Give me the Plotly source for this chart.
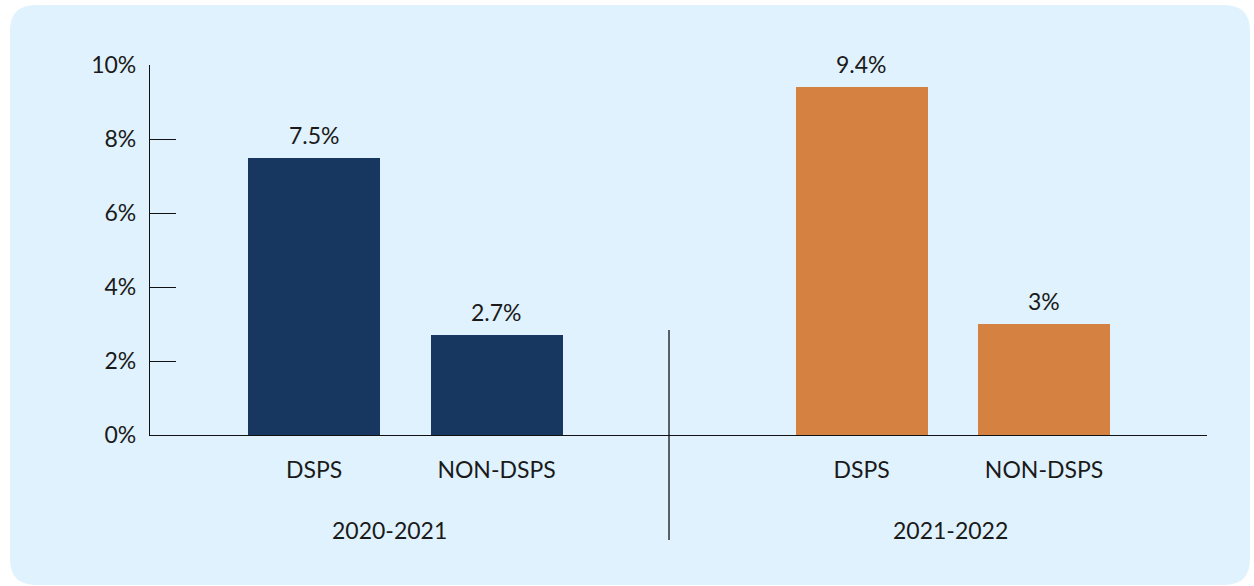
import plotly.graph_objects as go

groups = ["2020-2021", "2021-2022"]
subcats = ["DSPS", "NON-DSPS"]
values = [[7.5, 2.7], [9.4, 3.0]]
colors = ["#183760", "#d48142"]
yticks = [0, 2, 4, 6, 8, 10]
ytick_text = [f"{t}%" for t in yticks]

W, H = 1254, 586
L, R, T, B = 150, 47, 65, 151
pw, ph = W - L - R, H - T - B

def px(x):
    return (x - L) / pw

def py(y):
    return (H - B - y) / ph

FONT = "Source Sans Pro, Lato, Noto Sans, sans-serif"
TXT = "#1a1a1a"
FS = 23

fig = go.Figure()
tickvals, ticktext = [], []
for gi, g in enumerate(groups):
    xs = [gi * 3 + si for si in range(len(subcats))]
    fig.add_trace(go.Bar(
        x=xs, y=values[gi], marker=dict(color=colors[gi], line=dict(width=0)),
        width=0.723, showlegend=False, hoverinfo="skip",
    ))
    for x, v in zip(xs, values[gi]):
        fig.add_annotation(x=x, y=v, text=f"{v:g}%", showarrow=False,
                           yanchor="bottom", yshift=7,
                           font=dict(family=FONT, size=FS, color=TXT))
    tickvals += xs
    ticktext += subcats

# group labels
group_x = [0.411, 3.49]
for gx, g in zip(group_x, groups):
    fig.add_annotation(x=gx, y=py(530), xref="x", yref="paper", text=g,
                       showarrow=False, yanchor="middle",
                       font=dict(family=FONT, size=FS, color=TXT))

# rounded background panel
x0, y0, x1, y1, r = 10, 5, 1250, 585, 26
path = (f"M {px(x0+r)},{py(y0)} L {px(x1-r)},{py(y0)} Q {px(x1)},{py(y0)} {px(x1)},{py(y0+r)} "
        f"L {px(x1)},{py(y1-r)} Q {px(x1)},{py(y1)} {px(x1-r)},{py(y1)} "
        f"L {px(x0+r)},{py(y1)} Q {px(x0)},{py(y1)} {px(x0)},{py(y1-r)} "
        f"L {px(x0)},{py(y0+r)} Q {px(x0)},{py(y0)} {px(x0+r)},{py(y0)} Z")
fig.add_shape(type="path", path=path, xref="paper", yref="paper",
              fillcolor="#e0f2fd", line=dict(width=0), layer="below")

# group divider
fig.add_shape(type="line", xref="x", yref="paper", x0=1.945, x1=1.945,
              y0=py(540), y1=py(330), line=dict(color="#111111", width=1.3))

fig.update_layout(
    width=W, height=H, margin=dict(l=L, r=R, t=T, b=B),
    paper_bgcolor="white", plot_bgcolor="rgba(0,0,0,0)",
    font=dict(family=FONT, size=FS, color=TXT),
    bargap=0,
)
fig.update_xaxes(range=[-0.899, 4.893], tickvals=tickvals, ticktext=ticktext,
                 showgrid=False, zeroline=False, showline=True, linecolor="#111111",
                 linewidth=1.3, ticks="", ticklabelstandoff=14,
                 tickfont=dict(family=FONT, size=FS, color=TXT))
fig.update_yaxes(range=[0, 10], tickvals=yticks, ticktext=ytick_text,
                 showgrid=False, zeroline=False, showline=True, linecolor="#111111",
                 linewidth=1.3, ticks="inside", ticklen=26, tickcolor="#111111",
                 tickwidth=1.3, ticklabelstandoff=8,
                 tickfont=dict(family=FONT, size=FS, color=TXT))

fig.write_html("out.html", config={"displayModeBar": False},
               post_script="document.body.style.margin='0px';document.body.style.overflow='hidden';")
